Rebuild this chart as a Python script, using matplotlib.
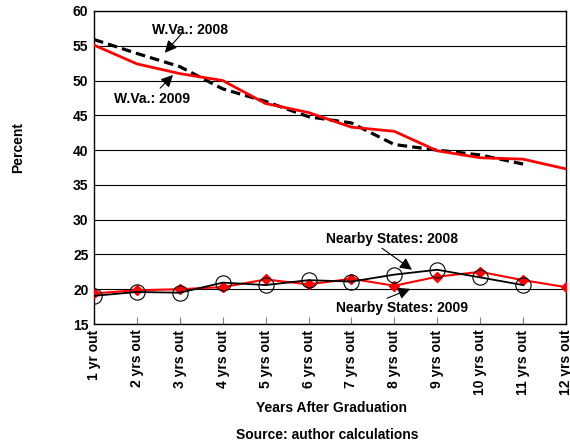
import matplotlib
matplotlib.use('Agg')
import matplotlib.pyplot as plt

plt.rcParams['font.family'] = ['Liberation Sans', 'DejaVu Sans']
plt.rcParams['font.weight'] = 'bold'

categories = ['1 yr out', '2 yrs out', '3 yrs out', '4 yrs out', '5 yrs out', '6 yrs out',
              '7 yrs out', '8 yrs out', '9 yrs out', '10 yrs out', '11 yrs out', '12 yrs out']

wva_2008 = [55.9, 53.9, 52.0, 48.8, 47.0, 44.8, 43.9, 40.8, 40.0, 39.3, 38.0]
wva_2009 = [55.1, 52.4, 51.0, 50.0, 46.7, 45.4, 43.3, 42.7, 39.9, 38.9, 38.7, 37.3]
nearby_2008 = [19.05, 19.6, 19.5, 20.95, 20.6, 21.3, 21.1, 22.1, 22.8, 21.7, 20.6]
nearby_2009 = [19.4, 19.85, 20.0, 20.3, 21.4, 20.7, 21.5, 20.5, 21.8, 22.5, 21.3, 20.3]

# label text, text position, arrow tail, arrow head (data coords)
labels = [
    ('W.Va.: 2008', (2.24, 57.3), (2.05, 56.8), (1.65, 54.0)),
    ('W.Va.: 2009', (1.35, 47.35), (1.54, 48.9), (1.84, 50.8)),
    ('Nearby States: 2008', (6.95, 27.2), (6.71, 25.9), (7.41, 22.8)),
    ('Nearby States: 2009', (7.18, 17.3), (6.83, 18.7), (7.37, 20.05)),
]

fig = plt.figure(figsize=(5.7, 4.47), dpi=100)
ax = fig.add_axes([94 / 570, 1 - 324 / 447, (566 - 94) / 570, (324 - 11) / 447])

x12 = list(range(len(categories)))
x11 = x12[:11]

ax.plot(x11, wva_2008, color='black', lw=2.3, ls=(0, (3, 1.6)), zorder=3)
ax.plot(x12, wva_2009, color='#ff0000', lw=2.0, zorder=4)
ax.plot(x12, nearby_2009, color='#ff0000', lw=1.5, marker='D', markersize=5,
        markeredgecolor='#ff0000', zorder=4)
ax.plot(x11, nearby_2008, color='black', lw=1.3, marker='o', markersize=11,
        markerfacecolor='none', markeredgecolor='black', markeredgewidth=0.8, zorder=5)

ax.set_xlim(0, 11)
ax.set_ylim(15, 60)
ax.set_yticks(range(15, 61, 5))
ax.set_xticks(x12)
ax.set_xticklabels(categories, rotation=90, fontsize=10, fontweight='bold')
ax.tick_params(axis='x', direction='in', length=5, color='gray', pad=4)
ax.tick_params(axis='y', length=0, labelsize=10, pad=4)
ax.yaxis.grid(True, color='black', lw=0.8)
ax.set_axisbelow(True)
for s in ax.spines.values():
    s.set_linewidth(1.0)

arrow = dict(arrowstyle='-|>,head_length=0.6,head_width=0.3', color='black', lw=0.8,
             mutation_scale=12, shrinkA=0, shrinkB=0)
for txt, tpos, tail, head in labels:
    ax.text(tpos[0], tpos[1], txt, ha='center', va='center', fontsize=10, fontweight='bold')
    ax.annotate('', xy=head, xytext=tail, arrowprops=arrow, zorder=6)

fig.text(331 / 570, 1 - 408 / 447, 'Years After Graduation', ha='center', va='center',
         fontsize=10, fontweight='bold')
fig.text(327 / 570, 1 - 435 / 447, 'Source: author calculations', ha='center', va='center',
         fontsize=10, fontweight='bold')
fig.text(18 / 570, 1 - 147 / 447, 'Percent', ha='center', va='center', rotation=90,
         fontsize=10, fontweight='bold')

fig.savefig('out.png', dpi=100)
